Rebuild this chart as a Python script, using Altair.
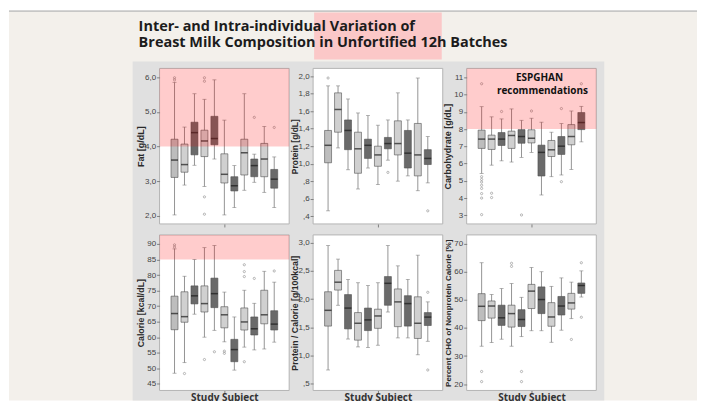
import altair as alt
import pandas as pd

# ---------------- data ----------------
subjects = list(range(1, 12))
shades = ["hatch", "light", "dark", "light", "dark", "light", "dark", "light", "dark", "light", "dark"]

title_lines = ["Inter- and Intra-individual Variation of",
               "Breast Milk Composition in Unfortified 12h Batches"]
espghan_lines = ["ESPGHAN", "recommendations"]
x_title = "Study Subject"

# Fat [g/dL]
fat_lo  = [2.03, 2.89, 3.46, 2.85, 3.64, 2.03, 2.24, 2.74, 2.97, 2.68, 2.24]
fat_q1  = [3.11, 3.26, 3.76, 3.71, 4.05, 2.95, 2.72, 3.18, 3.13, 3.13, 2.80]
fat_med = [3.61, 3.48, 4.40, 4.16, 4.23, 3.20, 2.87, 3.82, 3.45, 3.64, 3.06]
fat_q3  = [4.21, 4.07, 4.70, 4.47, 4.87, 3.79, 3.13, 4.21, 3.64, 4.09, 3.34]
fat_hi  = [5.85, 4.56, 5.52, 5.36, 5.92, 4.76, 3.45, 5.52, 3.78, 4.58, 3.70]
fat_out_x = [1, 1, 4, 4, 4, 4, 9, 11]
fat_out_y = [5.98, 5.92, 5.98, 5.88, 2.55, 2.05, 4.84, 4.55]

# Protein [g/dL]
pro_lo  = [0.46, 1.18, 0.93, 0.71, 0.95, 0.76, 1.04, 0.80, 0.86, 0.69, 0.78]
pro_q1  = [1.01, 1.36, 1.16, 0.89, 1.06, 0.97, 1.17, 1.10, 0.95, 0.86, 0.99]
pro_med = [1.21, 1.62, 1.38, 1.17, 1.21, 1.10, 1.23, 1.23, 1.12, 1.10, 1.06]
pro_q3  = [1.38, 1.81, 1.50, 1.36, 1.28, 1.20, 1.30, 1.49, 1.38, 1.46, 1.16]
pro_hi  = [1.89, 1.89, 1.74, 1.58, 1.55, 1.44, 1.50, 1.81, 1.50, 1.98, 1.31]
pro_out_x = [1, 7, 11]
pro_out_y = [1.98, 0.90, 0.46]

# Carbohydrate [g/dL]
carb_lo  = [5.43, 5.91, 6.16, 6.09, 6.36, 6.65, 4.18, 5.24, 5.34, 5.66, 7.26]
carb_q1  = [6.88, 6.82, 7.05, 6.88, 7.18, 7.20, 5.28, 6.41, 6.53, 7.09, 7.97]
carb_med = [7.42, 7.42, 7.42, 7.63, 7.57, 7.47, 6.65, 6.80, 7.01, 7.57, 8.38]
carb_q3  = [7.94, 7.65, 7.80, 7.88, 7.97, 7.96, 7.07, 7.34, 7.57, 8.26, 8.96]
carb_hi  = [9.30, 8.71, 8.59, 9.17, 8.51, 8.63, 8.40, 7.82, 8.32, 9.05, 9.32]
carb_out_x = [1, 1, 1, 1, 1, 1, 1, 1, 1, 2, 2, 3, 5, 6, 9, 9, 11]
carb_out_y = [10.63, 5.24, 5.08, 4.93, 4.74, 4.56, 4.26, 4.00, 3.04,
              4.28, 4.03, 9.02, 3.02, 9.05, 9.19, 4.95, 10.63]

# Calorie [kcal/dL]
cal_lo  = [48.4, 51.8, 67.4, 60.0, 62.2, 58.5, 49.4, 56.8, 55.9, 56.2, 58.4]
cal_q1  = [62.4, 64.8, 70.7, 68.1, 69.5, 63.0, 52.1, 62.3, 60.7, 64.3, 62.3]
cal_med = [67.6, 66.6, 73.3, 70.8, 74.0, 67.2, 56.0, 64.9, 62.7, 67.2, 64.2]
cal_q3  = [73.2, 74.6, 76.5, 76.5, 79.0, 69.8, 59.3, 69.4, 66.5, 75.1, 68.5]
cal_hi  = [88.4, 79.6, 85.0, 88.8, 89.5, 74.5, 66.5, 75.1, 70.9, 81.2, 77.7]
cal_out_x = [1, 1, 2, 4, 5, 6, 6, 8, 8, 8, 8, 9, 11]
cal_out_y = [89.7, 89.0, 48.3, 52.8, 55.3, 55.5, 54.8, 83.3, 81.1, 79.5, 52.1, 78.9, 81.3]

# Protein / Calorie [g/100kcal]
pc_lo  = [0.74, 1.89, 1.29, 1.15, 1.14, 1.18, 1.77, 1.31, 1.31, 1.01, 1.25]
pc_q1  = [1.52, 2.16, 1.47, 1.27, 1.44, 1.48, 1.89, 1.51, 1.52, 1.30, 1.53]
pc_med = [1.80, 2.30, 1.84, 1.57, 1.63, 1.70, 2.28, 1.95, 1.92, 1.57, 1.68]
pc_q3  = [2.13, 2.51, 2.08, 1.76, 1.84, 1.82, 2.40, 2.18, 2.06, 2.04, 1.76]
pc_hi  = [2.95, 2.71, 2.35, 2.29, 2.24, 2.29, 2.95, 2.59, 2.35, 2.78, 1.95]
pc_out_x = [11, 11]
pc_out_y = [2.12, 0.74]

# Percent CHO of Nonprotein Calorie [%]
pct_lo  = [33.5, 34.8, 36.0, 33.5, 36.9, 39.0, 39.0, 34.9, 39.2, 43.3, 51.0]
pct_q1  = [42.6, 43.5, 40.9, 40.3, 40.5, 46.9, 45.1, 40.6, 44.6, 46.7, 52.3]
pct_med = [47.7, 47.8, 43.6, 45.1, 43.0, 53.1, 50.1, 43.9, 47.8, 48.9, 55.1]
pct_q3  = [52.2, 49.6, 48.1, 48.1, 46.5, 55.5, 54.6, 49.0, 51.2, 52.3, 56.0]
pct_hi  = [63.2, 51.9, 54.0, 55.8, 50.9, 61.5, 60.0, 54.8, 57.8, 56.3, 60.3]
pct_out_x = [1, 1, 4, 4, 5, 5, 10, 11, 11]
pct_out_y = [24.5, 20.9, 63.0, 61.9, 24.5, 20.9, 35.9, 63.2, 43.8]

# ESPGHAN recommended lower limits (pink bands)
fat_pink = 4.0
carb_pink = 8.0
cal_pink = 85.0

# ---------------- styling ----------------
W, H = 130, 156
OFFWHITE = "#f3f0eb"
REGION = "#e0e0e0"
one = pd.DataFrame({"k": [0]})

DEC_EXPR = ("datum.value < 1 ? replace(format(datum.value, '.1f'), '0.', ',') "
            ": replace(format(datum.value, '.1f'), '.', ',')")
INT_EXPR = "format(datum.value, 'd')"


def decor_layers():
    c = alt.Chart(one)
    strip = c.mark_rect(fill="#ffffff").encode(
        x=alt.value(-151), x2=alt.value(539), y=alt.value(-60), y2=alt.value(-58))
    bg = c.mark_rect(fill=OFFWHITE).encode(
        x=alt.value(-151), x2=alt.value(539), y=alt.value(-57), y2=alt.value(333))
    line = c.mark_rule(color="#a0a0a0", strokeWidth=1).encode(
        x=alt.value(-151), x2=alt.value(539), y=alt.value(-57.5))
    region = c.mark_rect(fill=REGION).encode(
        x=alt.value(-27), x2=alt.value(446), y=alt.value(-7), y2=alt.value(333))
    hl = c.mark_rect(fill="#fbc8c8").encode(
        x=alt.value(155), x2=alt.value(283), y=alt.value(-56), y2=alt.value(-9))
    tkw = dict(align="left", baseline="alphabetic", font="Open Sans",
               fontWeight="bold", fontSize=14.5, color="#1c1c1c")
    t1 = c.mark_text(text=title_lines[0], **tkw).encode(x=alt.value(-21), y=alt.value(-37.5))
    t2 = c.mark_text(text=title_lines[1], **tkw).encode(x=alt.value(-21), y=alt.value(-21.5))
    return [strip, bg, line, region, hl, t1, t2]


def panel(lo, q1, med, q3, hi, ox, oy, ytitle, domain, ticks, dec,
          pink=None, xtitle=None, ytitle_size=8.8, decor=False, note=False):
    box_df = pd.DataFrame(dict(subject=subjects, shade=shades, lo=lo, q1=q1,
                               med=med, q3=q3, hi=hi))
    out_df = pd.DataFrame(dict(subject=ox, value=oy))
    yscale = alt.Scale(domain=domain, nice=False, zero=False)
    xscale = alt.Scale(domain=[0, 12], nice=False, zero=False)
    yaxis = alt.Axis(title=ytitle, values=ticks, labelExpr=DEC_EXPR if dec else INT_EXPR,
                     grid=False, domain=False, tickSize=3, tickColor="#808080",
                     labelFont="Liberation Sans", labelFontSize=8, labelColor="#444444",
                     labelPadding=1, titleFont="Liberation Sans", titleFontWeight="bold",
                     titleFontSize=ytitle_size, titleColor="#2a2a2a",
                     titleX=-14, titleY=H / 2, titleAngle=-90, titleBaseline="bottom",
                     titleAlign="center", zindex=1)
    xaxis_kw = dict(values=[6], labels=False, grid=False, domain=False, tickSize=3,
                    tickColor="#808080", zindex=1)
    if xtitle:
        xaxis = alt.Axis(title=xtitle, titleFont="Open Sans", titleFontWeight="bold",
                         titleFontSize=10, titleColor="#333333", titlePadding=-1, **xaxis_kw)
    else:
        xaxis = alt.Axis(title=None, **xaxis_kw)
    X = alt.X("subject:Q", scale=xscale, axis=xaxis)

    def Y(f):
        return alt.Y(f + ":Q", scale=yscale, axis=yaxis)

    base = alt.Chart(box_df)
    layers = decor_layers() if decor else []
    frame = alt.Chart(one).mark_rect(fill="white", stroke="#b4b4b4", strokeWidth=1).encode(
        x=alt.value(0), x2=alt.value(W), y=alt.value(0), y2=alt.value(H))
    whisk = base.mark_rule(color="#7a7a7a", strokeWidth=0.8).encode(
        x=X, y=Y("lo"), y2=alt.Y2("hi"))
    cap_lo = base.mark_tick(orient="horizontal", size=4, thickness=0.8, color="#7a7a7a").encode(
        x=X, y=Y("lo"))
    cap_hi = base.mark_tick(orient="horizontal", size=4, thickness=0.8, color="#7a7a7a").encode(
        x=X, y=Y("hi"))
    box = base.mark_bar(size=7, stroke="#505050", strokeWidth=0.6).encode(
        x=X, y=Y("q1"), y2=alt.Y2("q3"),
        color=alt.Color("shade:N", legend=None,
                        scale=alt.Scale(domain=["hatch", "light", "dark"],
                                        range=["#bdbdbd", "#d0d0d0", "#6a6a6a"])))
    medt = base.mark_tick(orient="horizontal", size=7, thickness=1.5, color="#1a1a1a").encode(
        x=X, y=Y("med"))
    outs = alt.Chart(out_df).mark_point(shape="circle", size=5, filled=False,
                                        strokeWidth=0.7, color="#707070").encode(
        x=X, y=alt.Y("value:Q", scale=yscale, axis=yaxis))
    layers += [frame, whisk, cap_lo, cap_hi, box, medt, outs]
    if pink is not None:
        pdf = pd.DataFrame({"plo": [pink]})
        band = alt.Chart(pdf).mark_rect(color="#ff0000", opacity=0.2).encode(
            x=alt.value(0), x2=alt.value(W),
            y=alt.Y("plo:Q", scale=yscale, axis=yaxis), y2=alt.value(0))
        layers.append(band)
    if note:
        nkw = dict(align="center", baseline="alphabetic", font="Open Sans",
                   fontWeight="bold", fontSize=10, color="#111111")
        n1 = alt.Chart(one).mark_text(text=espghan_lines[0], **nkw).encode(
            x=alt.value(73), y=alt.value(12.7))
        n2 = alt.Chart(one).mark_text(text=espghan_lines[1], **nkw).encode(
            x=alt.value(76), y=alt.value(25.5))
        layers += [n1, n2]
    return alt.layer(*layers).properties(width=W, height=H)


p1 = panel(fat_lo, fat_q1, fat_med, fat_q3, fat_hi, fat_out_x, fat_out_y,
           "Fat [g/dL]", [1.77, 6.25], [2, 3, 4, 5, 6], True, pink=fat_pink,
           ytitle_size=9, decor=True)
p2 = panel(pro_lo, pro_q1, pro_med, pro_q3, pro_hi, pro_out_x, pro_out_y,
           "Protein [g/dL]", [0.31, 2.09], [0.4, 0.6, 0.8, 1.0, 1.2, 1.4, 1.6, 1.8, 2.0], True,
           ytitle_size=8.5)
p3 = panel(carb_lo, carb_q1, carb_med, carb_q3, carb_hi, carb_out_x, carb_out_y,
           "Carbohydrate [g/dL]", [2.5, 11.52], list(range(3, 12)), False, pink=carb_pink,
           ytitle_size=9, note=True)
p4 = panel(cal_lo, cal_q1, cal_med, cal_q3, cal_hi, cal_out_x, cal_out_y,
           "Calorie [kcal/dL]", [42.85, 92.9], list(range(45, 95, 5)), False, pink=cal_pink,
           xtitle=x_title)
p5 = panel(pc_lo, pc_q1, pc_med, pc_q3, pc_hi, pc_out_x, pc_out_y,
           "Protein / Calorie [g/100kcal]", [0.376, 3.14], [0.5, 1.0, 1.5, 2.0, 2.5, 3.0], True,
           xtitle=x_title)
p6 = panel(pct_lo, pct_q1, pct_med, pct_q3, pct_hi, pct_out_x, pct_out_y,
           "Percent CHO of Nonprotein Calorie [%]", [17.75, 73.1], [20, 30, 40, 50, 60, 70], False,
           xtitle=x_title, ytitle_size=8)

chart = alt.concat(p1, p2, p3, p4, p5, p6, columns=3,
                   spacing={"row": 11, "column": 24}, bounds="flush").properties(
    padding=0, background="#ffffff"
).configure_view(strokeWidth=0)

chart.save("out.html", embed_options={"renderer": "svg", "actions": False})
